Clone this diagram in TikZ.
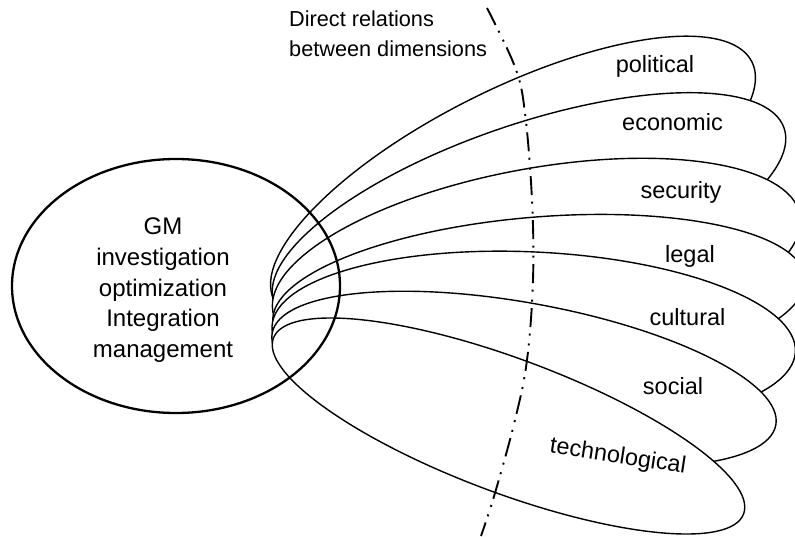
\documentclass[tikz,border=0pt]{standalone}
\usepackage{fontspec}
\setmainfont{Liberation Sans}
\begin{document}
\begin{tikzpicture}[x=1pt,y=-1pt,
  petal/.style={draw=black, line width=1.4pt, fill=white},
  lbl/.style={font=\fontsize{23.5}{28}\selectfont, inner sep=0pt, anchor=base},
  gmtext/.style={font=\fontsize{24}{29}\selectfont, inner sep=0pt, anchor=base},
  note/.style={font=\fontsize{21.7}{26}\selectfont, inner sep=0pt, anchor=base west},
  divider/.style={line width=1.9pt, dash pattern=on 19pt off 6.5pt on 2pt off 8pt on 2pt off 6.5pt},
  gm/.style={line width=2.3pt}
  ]
\useasboundingbox (0,0) rectangle (795,536);
\fill[white] (0,0) rectangle (795,536);
% petals, back to front
\draw[petal, rotate around={26.5:(513,181)}]   (513,181)   ellipse [x radius=267pt, y radius=92pt];
\draw[petal, rotate around={18.8:(529,215)}]   (529,215)   ellipse [x radius=269.5pt, y radius=91pt];
\draw[petal, rotate around={10.4:(536.5,263.5)}] (536.5,263.5) ellipse [x radius=268pt, y radius=95pt];
\draw[petal, rotate around={4.7:(539,300)}]    (539,300)   ellipse [x radius=267pt, y radius=83pt];
\draw[petal, rotate around={-2.8:(533.7,339)}] (533.7,339) ellipse [x radius=262pt, y radius=87pt];
\draw[petal, rotate around={-10.35:(524,379)}] (524,379)   ellipse [x radius=256pt, y radius=76pt];
\draw[petal, rotate around={-20.5:(508.5,426)}] (508.5,426) ellipse [x radius=251pt, y radius=67pt];
% labels
\node[lbl] (political) at (655,72) {political};
\node[lbl] (economic) at (672.5,130.5) {economic};
\node[lbl] (security) at (681,198) {security};
\node[lbl] (legal) at (690,262) {legal};
\node[lbl] (cultural) at (687.5,325.5) {cultural};
\node[lbl] (social) at (673,394) {social};
\node[lbl, rotate=-8.7] (technological) at (617,463) {technological};
% divider
\draw[divider] plot[smooth, tension=0.6] coordinates {(487,8) (515,67) (525,113) (532,200) (533,280) (527,360) (515,420) (495,493) (481,536)};
% note
\node[note] (note1) at (289,26) {Direct relations};
\node[note] (note2) at (289,56.5) {between dimensions};
% GM ellipse
\draw[gm] (176,286) ellipse [x radius=164pt, y radius=127pt];
\node[gmtext] (gm1) at (163,234) {GM};
\node[gmtext] (gm2) at (163,265) {investigation};
\node[gmtext] (gm3) at (163,296) {optimization};
\node[gmtext] (gm4) at (163,326.5) {Integration};
\node[gmtext] (gm5) at (163,357) {management};
\end{tikzpicture}
\end{document}
